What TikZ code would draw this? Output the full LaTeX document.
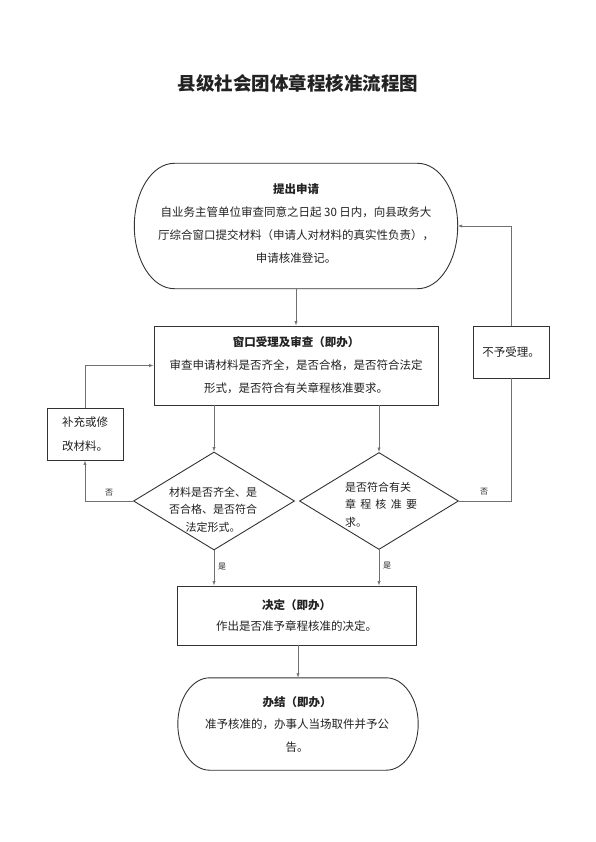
\documentclass[tikz,border=0pt]{standalone}
\usepackage{fontspec}
\setmainfont{Noto Sans CJK SC}
\usetikzlibrary{shapes.geometric,arrows.meta,calc}
\definecolor{boxc}{HTML}{333333}
\definecolor{linec}{HTML}{707070}
\definecolor{txt}{HTML}{222222}
\begin{document}
\begin{tikzpicture}[x=1pt,y=-1pt,
  boxstyle/.style={draw=boxc, line width=0.9pt, rectangle, inner sep=0pt, align=center, text=txt, font=\fontsize{11.5}{23}\selectfont},
  frame/.style={rectangle, inner sep=0pt},
  outline/.style={draw=boxc, line width=0.9pt},
  diam/.style={draw=boxc, line width=0.9pt, diamond, inner sep=0pt},
  txtnode/.style={inner sep=0pt, align=center, text=txt},
  arr/.style={draw=linec, line width=0.6pt, -{Latex[length=4.5pt,width=3.2pt]}},
  ln/.style={draw=linec, line width=0.6pt},
  lbl/.style={inner sep=0pt, font=\fontsize{8}{8}\selectfont, text=txt}]
\useasboundingbox (0,0) rectangle (595,842);
\fill[white] (0,0) rectangle (595,842);

\node[txtnode, font=\bfseries\fontsize{18.5}{20}\selectfont] (title) at (298,83) {县级社会团体章程核准流程图};

% start terminal (elliptical ends, a=40, b=62.5)
\node[frame, minimum width=323pt, minimum height=125pt] (start) at (296,226) {};
\draw[outline] ($(start.north west)+(40,0)$) -- ($(start.north east)+(-40,0)$)
  .. controls +(22.1,0) and +(0,-34.5) .. (start.east)
  .. controls +(0,34.5) and +(22.1,0) .. ($(start.south east)+(-40,0)$)
  -- ($(start.south west)+(40,0)$)
  .. controls +(-22.1,0) and +(0,34.5) .. (start.west)
  .. controls +(0,-34.5) and +(-22.1,0) .. cycle;
\node[txtnode, font=\fontsize{11.5}{22.7}\selectfont] (startt) at (296,223.5)
  {\textbf{提出申请}\\自业务主管单位审查同意之日起 30 日内，向县政务大\\厅综合窗口提交材料（申请人对材料的真实性负责），\\申请核准登记。};

% window acceptance
\node[boxstyle, minimum width=284pt, minimum height=79pt] (box2) at (296,365.5)
  {\textbf{窗口受理及审查（即办）}\\审查申请材料是否齐全，是否合格，是否符合法定\\形式，是否符合有关章程核准要求。};

% not accepted
\node[boxstyle, minimum width=76pt, minimum height=52pt] (nb) at (511,352) {不予受理。};

% supplement
\node[boxstyle, minimum width=76pt, minimum height=52pt, font=\fontsize{11.5}{24}\selectfont] (bc) at (85,434) {补充或修\\改材料。};

% diamonds
\node[diam, minimum width=161pt, minimum height=98pt] (d1) at (214,501) {};
\node[txtnode, font=\fontsize{11}{17.5}\selectfont] (d1t) at (213,509.5)
  {材料是否齐全、是\\否合格、是否符合\\法定形式。};
\node[diam, minimum width=159pt, minimum height=97pt] (d2) at (379,501) {};
\node[txtnode, align=left, font=\fontsize{11}{17.5}\selectfont] (d2t) at (381,504.5)
  {是否符合有关\\\makebox[72pt][s]{章 程 核 准 要}\\求。};

% decision
\node[boxstyle, minimum width=239pt, minimum height=59pt, font=\fontsize{11.5}{20.5}\selectfont] (box3) at (296.5,615.5)
  {\textbf{决定（即办）}\\作出是否准予章程核准的决定。};

% end terminal (elliptical ends, a=32, b=46)
\node[frame, minimum width=240pt, minimum height=92pt] (fin) at (298,724) {};
\draw[outline] ($(fin.north west)+(32,0)$) -- ($(fin.north east)+(-32,0)$)
  .. controls +(17.7,0) and +(0,-25.4) .. (fin.east)
  .. controls +(0,25.4) and +(17.7,0) .. ($(fin.south east)+(-32,0)$)
  -- ($(fin.south west)+(32,0)$)
  .. controls +(-17.7,0) and +(0,25.4) .. (fin.west)
  .. controls +(0,-25.4) and +(-17.7,0) .. cycle;
\node[txtnode, font=\fontsize{11.5}{22.5}\selectfont] (fint) at (297,724.5)
  {\textbf{办结（即办）}\\准予核准的，办事人当场取件并予公\\告。};

% connectors
\draw[arr] (start.south) -- (box2.north);
\draw[arr] (box2.south -| d1.north) -- (d1.north);
\draw[arr] (box2.south -| d2.north) -- (d2.north);
\draw[arr] (d1.south) -- (d1.south |- box3.north);
\draw[arr] (d2.south) -- (d2.south |- box3.north);
\draw[arr] (box3.south -| fin.north) -- (fin.north);
\draw[arr] (d1.west) -| (bc.south);
\draw[arr] (bc.north) |- (box2.west);
\draw[ln] (d2.east) -| (nb.south);
\draw[arr] (nb.north) |- (start.east);

% labels
\node[lbl] (l1) at (109,493) {否};
\node[lbl] (l2) at (484,492) {否};
\node[lbl] (l3) at (222,567) {是};
\node[lbl] (l4) at (387,566) {是};
\end{tikzpicture}
\end{document}
